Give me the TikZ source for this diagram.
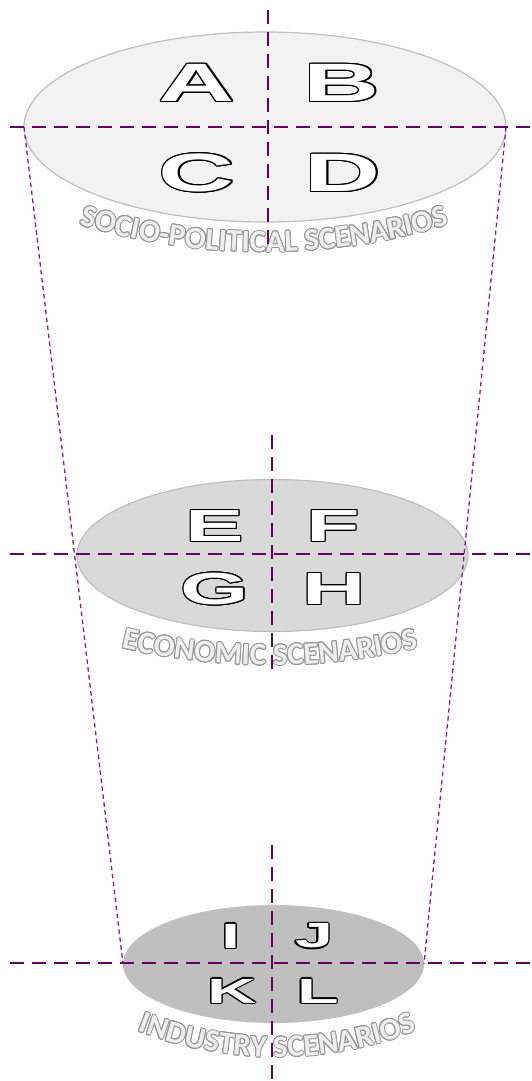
\documentclass[tikz,border=0pt]{standalone}
\usepackage{fontspec}
\usetikzlibrary{shapes.geometric,decorations.text}
\newfontfamily\letterfont{Liberation Sans}
\newfontfamily\labelfont{Carlito}
\definecolor{axispurple}{RGB}{102,0,102}
\definecolor{topfill}{RGB}{242,242,242}
\definecolor{midfill}{RGB}{217,217,217}
\definecolor{botfill}{RGB}{191,191,191}
\definecolor{discedge}{RGB}{190,190,190}
\definecolor{labelfill}{RGB}{238,238,238}
\definecolor{labeledge}{RGB}{150,150,150}
\newcommand\labelstyle{\labelfont\bfseries\fontsize{31}{31}\selectfont}
\newcommand\arclabel[2]{%
  \foreach \a in {0,30,...,330}
    \path[shift={(\a:1.0)}, decorate, decoration={text along path, text align=center, text color=labeledge, text={|\labelstyle|#2}}] #1;
  \path[decorate, decoration={text along path, text align=center, text color=labelfill, text={|\labelstyle|#2}}] #1;
}
\begin{document}
\begin{tikzpicture}[x=1pt,y=1pt,
  disc/.style={ellipse, inner sep=0pt, outer sep=0pt, line width=1.2pt},
  axisline/.style={draw=axispurple, line width=2.4pt, dash pattern=on 14pt off 8pt},
  guide/.style={draw=axispurple!85, line width=1.3pt, dash pattern=on 4.5pt off 3.5pt},
  letter/.style={inner sep=0pt, font=\letterfont\bfseries\fontsize{#1}{#1}\selectfont},
]
\fill[white] (0,0) rectangle (532,-1081);
\useasboundingbox (0,0) rectangle (532,-1081);

% discs
\node[disc, fill=topfill, draw=discedge, minimum width=482pt, minimum height=190pt] (top) at (265,-127) {};
\node[disc, fill=midfill, draw=discedge, minimum width=391pt, minimum height=152pt] (mid) at (272.5,-555.5) {};
\node[disc, fill=botfill, minimum width=301pt, minimum height=118pt] (bot) at (273.5,-964) {};

% guide lines
\draw[guide] (top.west) -- (bot.west);
\draw[guide] (top.east) -- (bot.east);

% curved labels
\arclabel{([shift={(245:640)}]264,388) arc[start angle=245,end angle=295,radius=640]}{SOCIO-POLITICAL SCENARIOS}
\arclabel{([shift={(245:653)}]270,-12) arc[start angle=245,end angle=295,radius=653]}{ECONOMIC SCENARIOS}
\arclabel{([shift={(240:385)}]277,-672) arc[start angle=240,end angle=300,radius=385]}{INDUSTRY SCENARIOS}

% axes
\coordinate (h1l) at (10,-127);  \coordinate (h1r) at (532,-127);
\coordinate (v1t) at (268,-10);  \coordinate (v1b) at (268,-252);
\coordinate (h2l) at (10,-554);  \coordinate (h2r) at (532,-554);
\coordinate (v2t) at (272,-435); \coordinate (v2b) at (272,-673);
\coordinate (h3l) at (10,-963);  \coordinate (h3r) at (532,-963);
\coordinate (v3t) at (272,-845); \coordinate (v3b) at (272,-1081);
\draw[axisline] (h1l) -- (h1r);
\draw[axisline] (v1t) -- (v1b);
\draw[axisline] (h2l) -- (h2r);
\draw[axisline] (v2t) -- (v2b);
\draw[axisline] (h3l) -- (h3r);
\draw[axisline] (v3t) -- (v3b);

% letters (white with a black outline)
\foreach \t/\x/\y/\s in {A/197/83/54, B/342/83/54, C/197/173/54, D/343/173/54,
                         E/215/526/45, F/333/526/45, G/215/589/45, H/334/589/45,
                         I/231/936/35, J/314/936/35, K/232/991/35, L/318/991/35} {
  \foreach \a in {0,30,...,330}
    \node[letter=\s, text=black] at ([shift={(\a:1.2)}]\x,-\y) {\scalebox{1.95}[1]{\t}};
  \node[letter=\s, text=white] (\t) at (\x,-\y) {\scalebox{1.95}[1]{\t}};
}
\end{tikzpicture}
\end{document}
